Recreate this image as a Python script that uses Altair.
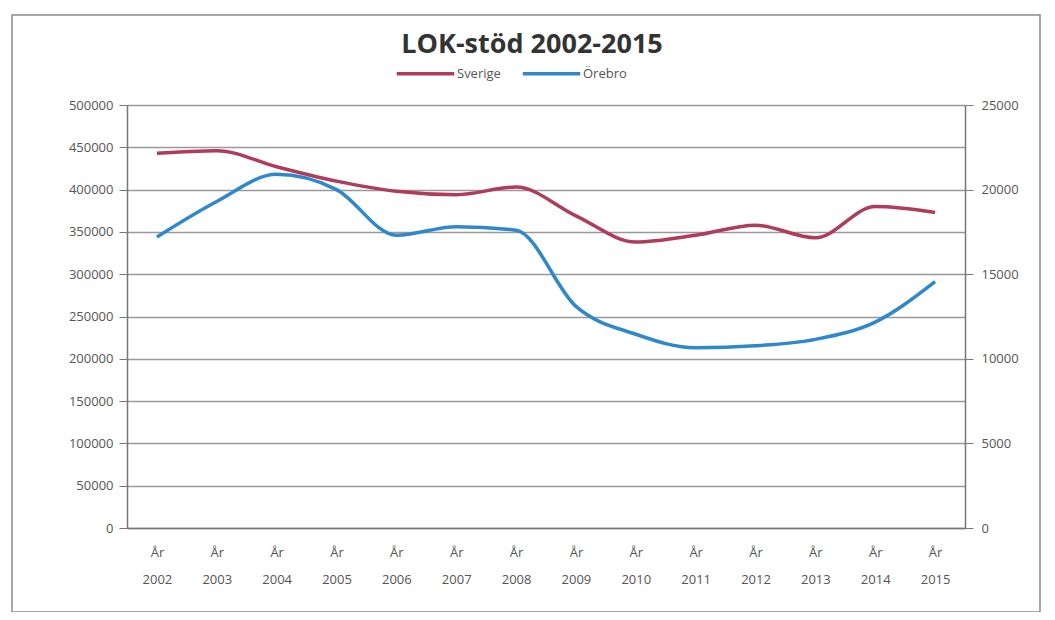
import altair as alt
import pandas as pd

years = [str(y) for y in range(2002, 2016)]
sverige = [443000, 446000, 427000, 410000, 398000, 394000, 403000,
           369000, 338000, 346000, 358000, 343000, 380000, 373000]
orebro = [17200, 19300, 20900, 20000, 17300, 17800, 17600,
          13100, 11450, 10650, 10770, 11150, 12170, 14560]
series_names = ["Sverige", "Örebro"]
series_colors = ["#B03C5A", "#2F88CC"]
title_text = "LOK-stöd 2002-2015"
label_prefix = "År"

df = pd.DataFrame({
    "year": years * 2,
    "serie": [series_names[0]] * len(years) + [series_names[1]] * len(years),
    "value": sverige + orebro,
})

FONT = "Open Sans"
color = alt.Color(
    "serie:N",
    scale=alt.Scale(domain=series_names, range=series_colors),
    legend=alt.Legend(
        title=None, orient="none", legendX=268, legendY=-62,
        direction="horizontal", symbolType="stroke", symbolSize=3300,
        symbolStrokeWidth=3.5, labelFont=FONT, labelFontSize=13,
        labelColor="#555555", labelOffset=1, columnPadding=14,
    ),
)

x = alt.X(
    "year:N", sort=years, title=None,
    scale=alt.Scale(paddingInner=0, paddingOuter=0),
    axis=alt.Axis(
        labelExpr=f"['{label_prefix}', datum.value]", labelAngle=0,
        labelFont=FONT, labelFontSize=13, labelColor="#555555",
        labelLineHeight=27, labelPadding=18, ticks=False,
        domainColor="#777777", domainWidth=1.5, grid=False,
    ),
)

left = alt.Chart(df).transform_filter(
    alt.datum.serie == series_names[0]
).mark_line(strokeWidth=3.5, interpolate="monotone").encode(
    x=x,
    y=alt.Y(
        "value:Q", title=None,
        scale=alt.Scale(domain=[0, 500000], nice=False),
        axis=alt.Axis(
            values=list(range(0, 500001, 50000)), format="d",
            labelFont=FONT, labelFontSize=13, labelColor="#555555",
            tickSize=8, tickColor="#777777", domainColor="#777777",
            domainWidth=1.5, labelPadding=6,
            grid=True, gridColor="#999999", gridWidth=1.5,
        ),
    ),
    color=color,
)

right = alt.Chart(df).transform_filter(
    alt.datum.serie == series_names[1]
).mark_line(strokeWidth=3.5, interpolate="monotone").encode(
    x=x,
    y=alt.Y(
        "value:Q", title=None,
        scale=alt.Scale(domain=[0, 25000], nice=False),
        axis=alt.Axis(
            orient="right", values=list(range(0, 25001, 5000)), format="d",
            labelFont=FONT, labelFontSize=13, labelColor="#555555",
            tickSize=8, tickColor="#777777", domainColor="#777777",
            domainWidth=1.5, labelPadding=8, grid=False,
        ),
    ),
    color=color,
)

frame = alt.Chart(pd.DataFrame({"a": [0]})).mark_rect(
    fill=None, stroke="#8a8a8a", strokeWidth=1.5, clip=False
).encode(
    x=alt.value(-115), x2=alt.value(913),
    y=alt.value(-90), y2=alt.value(507),
)

title = alt.Chart(pd.DataFrame({"t": [title_text]})).mark_text(
    font=FONT, fontSize=27, fontWeight="bold", color="#333333",
    align="center", baseline="middle", clip=False
).encode(
    text="t:N", x=alt.value(405), y=alt.value(-60),
)

chart = alt.layer(frame, title, left, right).resolve_scale(
    y="independent"
).properties(
    width=838, height=423,
    autosize=alt.AutoSizeParams(type="none"),
    padding={"left": 119, "top": 97, "right": 82, "bottom": 84},
).configure_view(stroke=None).configure(background="white")

chart.save("out.html", embed_options={"renderer": "svg", "actions": False})
